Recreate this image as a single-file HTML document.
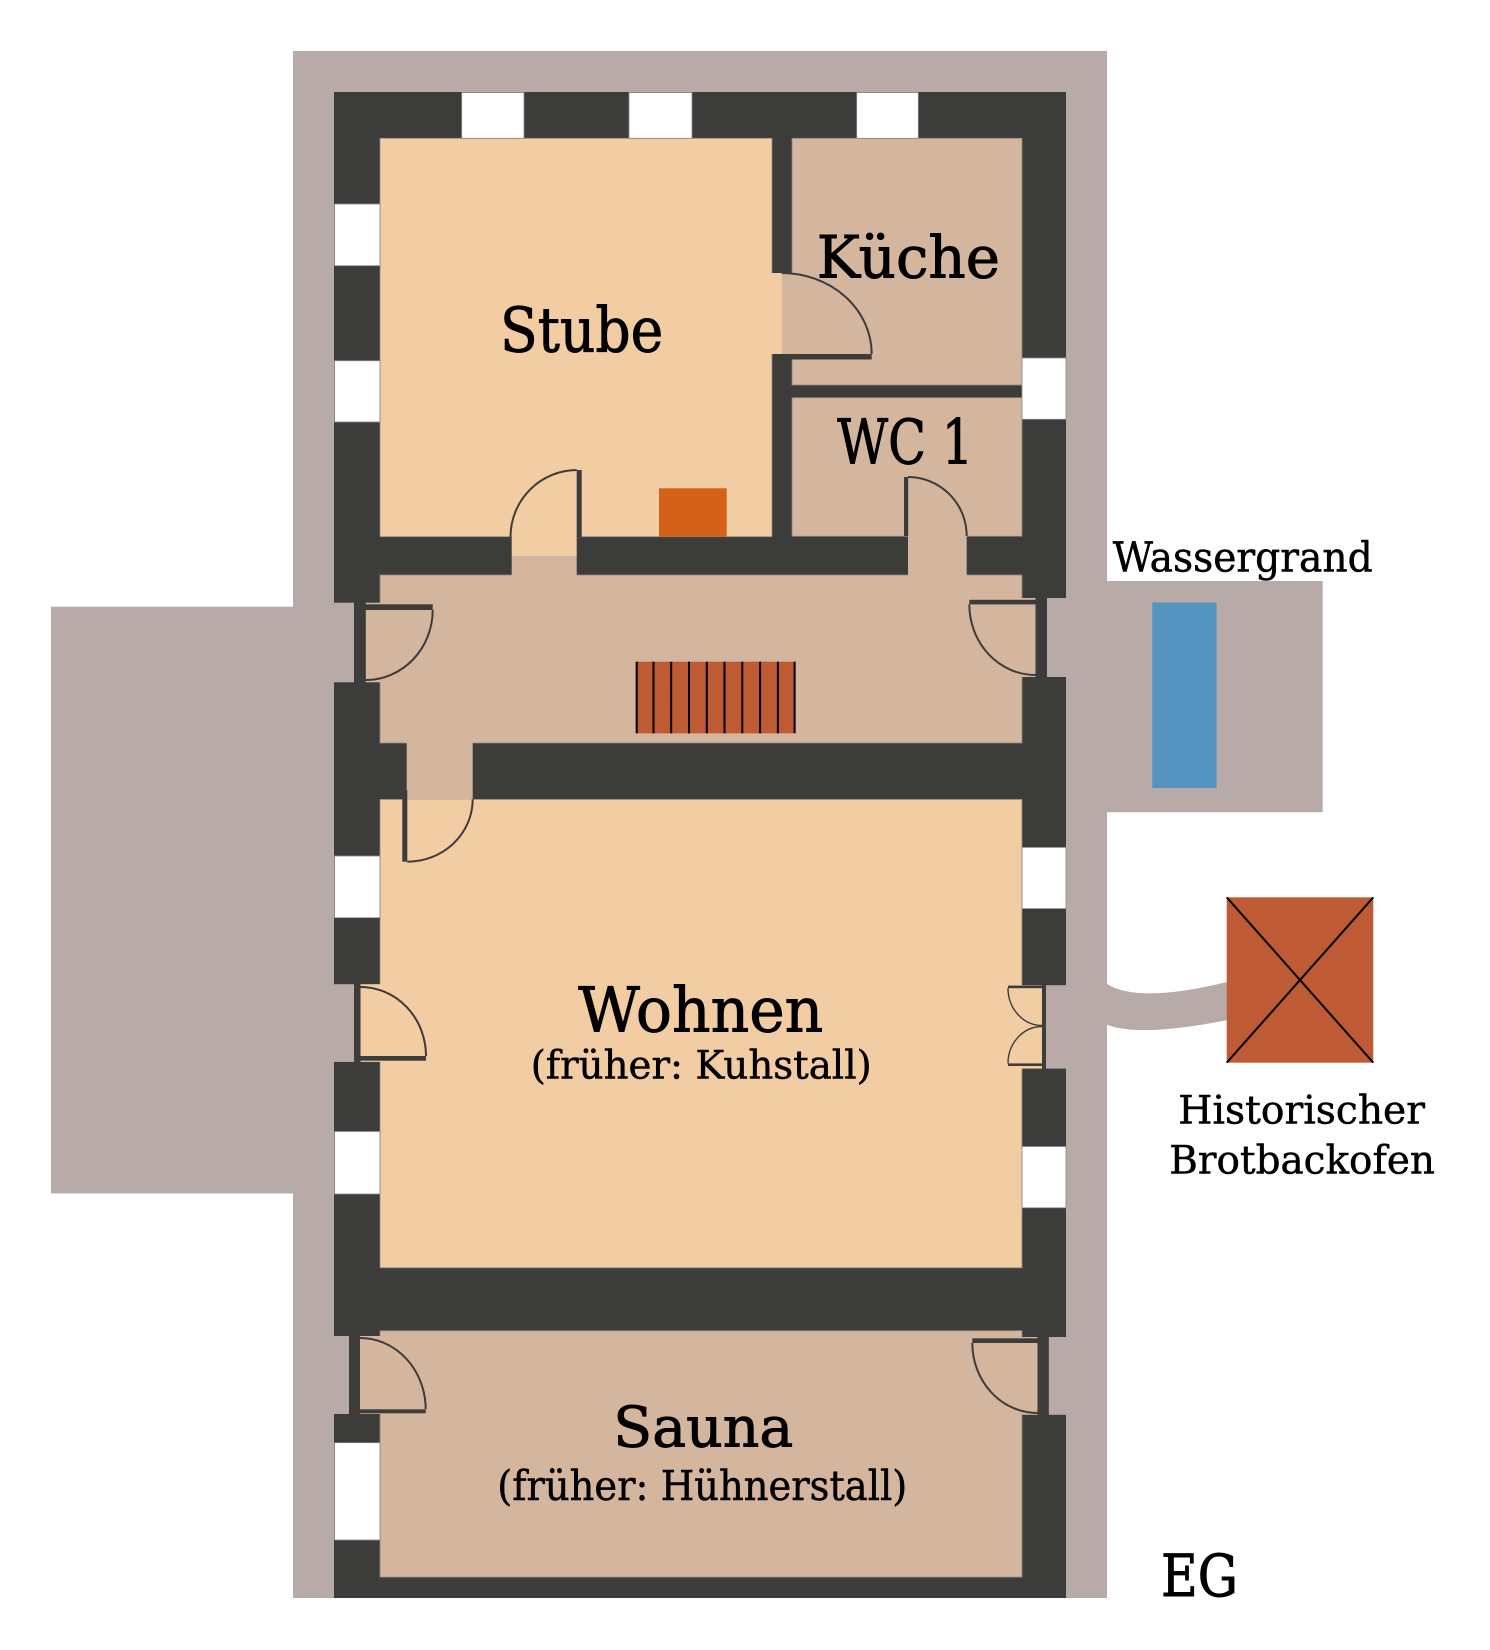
<!DOCTYPE html>
<html>
<head>
<meta charset="utf-8">
<style>
  html,body{margin:0;padding:0;background:#ffffff;}
  svg{display:block;}
  text{font-family:"DejaVu Serif","Liberation Serif",serif;fill:#000;stroke:#000;}
</style>
</head>
<body>
<svg width="1490" height="1650" viewBox="0 0 1490 1650" xmlns="http://www.w3.org/2000/svg">
  <!-- outer gray surroundings -->
  <rect x="293" y="51" width="814" height="1547" fill="#b8aba7"/>
  <rect x="51" y="606.7" width="243" height="586.8" fill="#b8aba7"/>
  <rect x="1106" y="581" width="216.7" height="231.2" fill="#b8aba7"/>
  <path d="M1104,981.7 Q1133.5,1005 1228,981.7 L1228,1020 Q1133.5,1038.5 1104,1023.3 Z" fill="#b8aba7"/>

  <!-- dark wall mass -->
  <rect x="334" y="92" width="732" height="1506" fill="#3c3c3b"/>

  <!-- rooms -->
  <g stroke="#8c8582" stroke-width="0.8">
    <rect x="380" y="138.3" width="392" height="398.4" fill="#f2cca3"/>
    <rect x="792" y="138.3" width="230" height="246.7" fill="#d4b59d"/>
    <rect x="792" y="397.7" width="230" height="138.6" fill="#d4b59d"/>
    <rect x="380" y="575" width="642" height="168" fill="#d4b59d"/>
    <rect x="380" y="799.4" width="642" height="468.4" fill="#f2cca3"/>
    <rect x="380" y="1330.7" width="642" height="246.4" fill="#d4b59d"/>
  </g>

  <!-- windows -->
  <g fill="#ffffff" stroke="#8c8582" stroke-width="0.8">
    <rect x="461.7" y="92.5" width="62.3" height="45.8"/>
    <rect x="629" y="92.5" width="63" height="45.8"/>
    <rect x="856.7" y="92.5" width="61.6" height="45.8"/>
    <rect x="334.5" y="204" width="45.5" height="61.7"/>
    <rect x="334.5" y="360.7" width="45.5" height="61.3"/>
    <rect x="334.5" y="856" width="45.5" height="61.7"/>
    <rect x="334.5" y="1131.5" width="45.5" height="62.5"/>
    <rect x="334.5" y="1442.7" width="45.5" height="97.3"/>
    <rect x="1022" y="358" width="44" height="61.3"/>
    <rect x="1022" y="847.4" width="44" height="61.2"/>
    <rect x="1022" y="1146.5" width="44" height="61.3"/>
  </g>

  <!-- door openings (fills) -->
  <rect x="771.5" y="273" width="10.5" height="81" fill="#f2cca3"/>
  <rect x="781.7" y="273" width="10.8" height="81" fill="#d4b59d"/>
  <rect x="511.7" y="536" width="65" height="20" fill="#f2cca3"/>
  <rect x="511.7" y="556" width="65" height="20" fill="#d4b59d"/>
  <rect x="908" y="535.5" width="58.7" height="40" fill="#d4b59d"/>
  <rect x="406.7" y="742" width="66" height="58" fill="#d4b59d"/>
  <rect x="334" y="602.7" width="20" height="79.6" fill="#b8aba7"/>
  <rect x="365.7" y="602.7" width="14.8" height="79.6" fill="#d4b59d"/>
  <rect x="1021.5" y="598" width="14.3" height="79" fill="#d4b59d"/>
  <rect x="1047" y="598" width="19" height="79" fill="#b8aba7"/>
  <rect x="334" y="984.2" width="20" height="77.7" fill="#b8aba7"/>
  <rect x="360.5" y="984.2" width="20" height="77.7" fill="#f2cca3"/>
  <rect x="1021.5" y="985.2" width="20.8" height="83.4" fill="#f2cca3"/>
  <rect x="1046" y="985.2" width="20" height="83.4" fill="#b8aba7"/>
  <rect x="334" y="1336" width="15" height="78" fill="#b8aba7"/>
  <rect x="360" y="1336" width="20.5" height="78" fill="#d4b59d"/>
  <rect x="1021.5" y="1337" width="16.3" height="77.8" fill="#d4b59d"/>
  <rect x="1048.7" y="1337" width="17.3" height="77.8" fill="#b8aba7"/>

  <!-- door leaves, frames & arcs -->
  <g fill="#3c3c3b">
    <rect x="781.7" y="354" width="90" height="5.5"/>
    <rect x="576.7" y="470" width="5" height="67"/>
    <rect x="904" y="477" width="4.2" height="59"/>
    <rect x="354" y="602.7" width="11.7" height="79.6"/>
    <rect x="354" y="604.3" width="78.7" height="5.7"/>
    <rect x="1035.5" y="598" width="11.5" height="79"/>
    <rect x="969.3" y="599.8" width="66.2" height="4.6"/>
    <rect x="402.3" y="790" width="5" height="71.7"/>
    <rect x="354" y="984.2" width="6.5" height="77.7"/>
    <rect x="360.5" y="1056" width="65.5" height="4.7"/>
    <rect x="1042" y="985.2" width="4" height="83.4"/>
    <rect x="1008" y="985.6" width="34" height="2.6"/>
    <rect x="1008" y="1063.4" width="34" height="2.6"/>
    <rect x="349" y="1336" width="11" height="78"/>
    <rect x="360" y="1409.3" width="65.7" height="4"/>
    <rect x="1037.5" y="1337" width="11.2" height="77.8"/>
    <rect x="972.3" y="1338.3" width="65.2" height="4.7"/>
  </g>
  <g fill="none" stroke="#3c3c3b" stroke-width="2">
    <path d="M781.7,273 A90,81 0 0 1 871.7,354"/>
    <path d="M576.7,470 A66.7,67 0 0 0 510.5,537"/>
    <path d="M908,477 A58.7,59 0 0 1 966.7,536"/>
    <path d="M432.7,610 A67,70 0 0 1 365.7,680"/>
    <path d="M969.3,604.4 A66.2,70.6 0 0 0 1035.5,675"/>
    <path d="M472.7,799.3 A65.4,62.4 0 0 1 407.3,861.7"/>
    <path d="M360.5,987 A65.5,69 0 0 1 426,1056"/>
    <path d="M360,1338 A65.7,71.3 0 0 1 425.7,1409.3"/>
    <path d="M972.3,1343 A65.2,70 0 0 0 1037.5,1413"/>
  </g>
  <g fill="none" stroke="#3c3c3b" stroke-width="1.4">
    <path d="M1008,988 A34,37.5 0 0 0 1042,1025.5"/>
    <path d="M1042,1026.5 A34,37 0 0 0 1008,1063.5"/>
  </g>

  <!-- stove -->
  <rect x="659" y="488.3" width="67.7" height="48.4" fill="#d46117"/>

  <!-- stairs -->
  <rect x="635.7" y="661.7" width="159.9" height="71.6" fill="#be5b35"/>
  <g stroke="#000" stroke-width="2">
    <line x1="636.7" y1="661.7" x2="636.7" y2="733.3"/>
    <line x1="653.5" y1="661.7" x2="653.5" y2="733.3"/>
    <line x1="671.2" y1="661.7" x2="671.2" y2="733.3"/>
    <line x1="689" y1="661.7" x2="689" y2="733.3"/>
    <line x1="706.8" y1="661.7" x2="706.8" y2="733.3"/>
    <line x1="724.5" y1="661.7" x2="724.5" y2="733.3"/>
    <line x1="742.3" y1="661.7" x2="742.3" y2="733.3"/>
    <line x1="760.1" y1="661.7" x2="760.1" y2="733.3"/>
    <line x1="777.9" y1="661.7" x2="777.9" y2="733.3"/>
    <line x1="794.6" y1="661.7" x2="794.6" y2="733.3"/>
  </g>

  <!-- Wassergrand pool -->
  <rect x="1152.3" y="602.5" width="64.3" height="185.5" fill="#5593c0"/>

  <!-- Brotbackofen -->
  <rect x="1226.7" y="897.3" width="146.6" height="165.4" fill="#be5b35"/>
  <g stroke="#000" stroke-width="2">
    <line x1="1226.7" y1="897.3" x2="1373.3" y2="1062.7"/>
    <line x1="1373.3" y1="897.3" x2="1226.7" y2="1062.7"/>
  </g>

  <!-- labels -->
  <text x="500" y="351.7" font-size="62" stroke-width="0.9" textLength="163.3" lengthAdjust="spacingAndGlyphs">Stube</text>
  <text x="816.7" y="277.3" font-size="58" stroke-width="0.9" textLength="183.3" lengthAdjust="spacingAndGlyphs">Küche</text>
  <text x="837.3" y="463.3" font-size="62" stroke-width="0.9" textLength="136" lengthAdjust="spacingAndGlyphs">WC 1</text>
  <text x="578.3" y="1031.7" font-size="62" stroke-width="0.9" textLength="245" lengthAdjust="spacingAndGlyphs">Wohnen</text>
  <text x="530.7" y="1078.3" font-size="39" stroke-width="0.5" textLength="341" lengthAdjust="spacingAndGlyphs">(früher: Kuhstall)</text>
  <text x="613.3" y="1446.5" font-size="56" stroke-width="0.9" textLength="180" lengthAdjust="spacingAndGlyphs">Sauna</text>
  <text x="497.3" y="1500" font-size="41" stroke-width="0.5" textLength="410" lengthAdjust="spacingAndGlyphs">(früher: Hühnerstall)</text>
  <text x="1112.7" y="571.7" font-size="41" stroke-width="0.5" textLength="260" lengthAdjust="spacingAndGlyphs">Wassergrand</text>
  <text x="1178.3" y="1123.3" font-size="39" stroke-width="0.5" textLength="246.7" lengthAdjust="spacingAndGlyphs">Historischer</text>
  <text x="1169.3" y="1173.3" font-size="39" stroke-width="0.5" textLength="265.7" lengthAdjust="spacingAndGlyphs">Brotbackofen</text>
  <text x="1161" y="1596" font-size="58" stroke-width="0.9" textLength="77" lengthAdjust="spacingAndGlyphs">EG</text>
</svg>
</body>
</html>
